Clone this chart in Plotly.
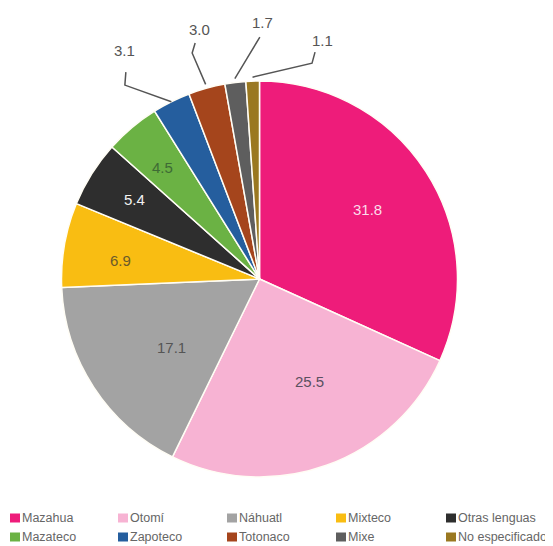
import math
import plotly.graph_objects as go

# ---- data ----
categories = ["Mazahua", "Otomí", "Náhuatl", "Mixteco", "Otras lenguas",
              "Mazateco", "Zapoteco", "Totonaco", "Mixe", "No especificado"]
values = [31.8, 25.5, 17.1, 6.9, 5.4, 4.5, 3.1, 3.0, 1.7, 1.1]
value_labels = ["31.8", "25.5", "17.1", "6.9", "5.4", "4.5", "3.1", "3.0", "1.7", "1.1"]

# ---- style ----
colors = ["#EE1C7A", "#F7B3D3", "#A3A3A3", "#F9BD12", "#2E2E2E",
          "#6BB244", "#255E9E", "#A5451C", "#5E5E5E", "#9A7820"]
text_colors = ["#FBDDEA", "#5A5060", "#555555", "#6B5A2A", "#F2F2F2",
               "#3E6B35", "#555555", "#555555", "#555555", "#555555"]
inside = [True, True, True, True, True, True, False, False, False, False]
inside_rfrac = [0.652, 0.625, 0.632, 0.771, 0.80, 0.83, 0, 0, 0, 0]
inside_dang = [0, -4.3, 0, -3, -2, -1.8, 0, 0, 0, 0]
# leader line geometry (pixel offsets from slice edge point): elbow, end, label centre
leader = {6: ((-46.5, -16.6), (-45.5, -29.6), (-1, -22)),
          7: ((-13.5, -31.4), (-10.5, -41.4), (4, -13)),
          8: ((12.5, -20.7), (25, -41.5), (3, -15)),
          9: ((59.5, -14), (62.5, -25), (7, -12))}
start_r = {6: 1.0, 7: 1.02, 8: 1.02, 9: 1.02}
legend_cols_x = [10, 118, 227, 336, 446]
legend_rows_y = [518, 537]

OFF = 8  # page body margin
W, H = 553 - OFF, 546 - OFF
cx, cy, R = 259.5, 279.0, 198.0
font_family = "Liberation Sans, Arial, sans-serif"


def px2paper(x, y):
    return (x - OFF) / W, 1 - (y - OFF) / H


fig = go.Figure()
x0, y1 = px2paper(cx - R, cy - R)
x1, y0 = px2paper(cx + R, cy + R)
fig.add_trace(go.Pie(
    labels=categories, values=values, sort=False, direction="clockwise",
    rotation=0, marker=dict(colors=colors, line=dict(color="#FFFDF5", width=1.5)),
    textinfo="none", hoverinfo="label+value", showlegend=False,
    domain=dict(x=[x0, x1], y=[y0, y1]),
))

total = sum(values)
cum = 0.0
annotations = []
shapes = []
for i, v in enumerate(values):
    mid = (cum + v / 2) / total * 2 * math.pi
    cum += v
    if inside[i]:
        a = mid + math.radians(inside_dang[i])
        x = cx + R * inside_rfrac[i] * math.sin(a)
        y = cy - R * inside_rfrac[i] * math.cos(a)
        px, py = px2paper(x, y)
        annotations.append(dict(x=px, y=py, xref="paper", yref="paper", text=value_labels[i],
                                showarrow=False,
                                font=dict(size=15, color=text_colors[i], family=font_family)))
    else:
        s, c = math.sin(mid), math.cos(mid)
        sx, sy = cx + R * start_r[i] * s, cy - R * start_r[i] * c
        (ex, ey), (tx, ty), (lx, ly) = leader[i]
        pts = [(sx, sy), (sx + ex, sy + ey), (sx + tx, sy + ty)]
        path = "M " + " L ".join("{},{}".format(*px2paper(p, q)) for p, q in pts)
        shapes.append(dict(type="path", path=path, xref="paper", yref="paper",
                           line=dict(color="#555555", width=1.5)))
        ax_, ay_ = px2paper(sx + tx + lx, sy + ty + ly)
        annotations.append(dict(x=ax_, y=ay_, xref="paper", yref="paper", text=value_labels[i],
                                showarrow=False, yanchor="middle", xanchor="center",
                                font=dict(size=15, color=text_colors[i], family=font_family)))

# legend (two rows of five), built from the category list and colours
ncol = len(legend_cols_x)
for i, name in enumerate(categories):
    lx = legend_cols_x[i % ncol]
    ly = legend_rows_y[i // ncol]
    qx0, qy0 = px2paper(lx, ly + 4.5)
    qx1, qy1 = px2paper(lx + 10, ly - 4.5)
    shapes.append(dict(type="rect", xref="paper", yref="paper", x0=qx0, x1=qx1, y0=qy0, y1=qy1,
                       fillcolor=colors[i], line=dict(width=0)))
    tx, ty = px2paper(lx + 10.5, ly)
    annotations.append(dict(x=tx, y=ty, xref="paper", yref="paper", text=name,
                            showarrow=False, xanchor="left", yanchor="middle", borderpad=0,
                            font=dict(size=12.5, color="#666666", family=font_family)))

fig.update_layout(
    width=W, height=H, margin=dict(l=0, r=0, t=0, b=0, autoexpand=False),
    paper_bgcolor="white", plot_bgcolor="white",
    annotations=annotations, shapes=shapes,
    showlegend=False,
)

fig.write_html("out.html")
